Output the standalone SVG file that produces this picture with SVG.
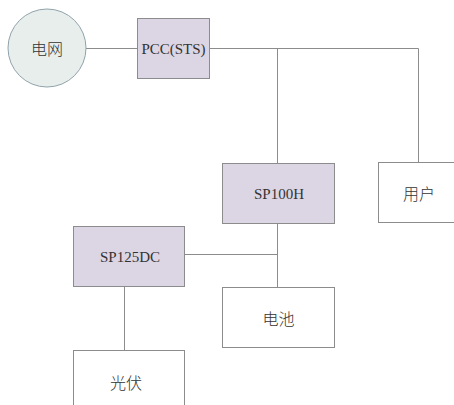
<svg xmlns="http://www.w3.org/2000/svg" width="454" height="405" viewBox="0 0 454 405">
<style>
.ln{stroke:#8c8c8c;stroke-width:1;fill:none}
.box{fill:#ffffff;stroke:#8c8c8c;stroke-width:1}
.pbox{fill:#dcd6e4;stroke:#8c8c8c;stroke-width:1}
.t{font-family:"Liberation Serif","Noto Sans CJK SC",serif;font-size:15px;font-weight:normal;fill:#333;text-anchor:middle;dominant-baseline:central}
.c{font-family:"Noto Sans CJK SC",sans-serif;font-size:16px;font-weight:300;fill:#333;text-anchor:middle;dominant-baseline:central}
</style>
<rect width="454" height="405" fill="#ffffff"/>
<g id="connectors">
<line class="ln" x1="86" y1="48.5" x2="137" y2="48.5"/>
<polyline class="ln" points="210,48.5 418.5,48.5 418.5,162"/>
<line class="ln" x1="277.5" y1="48.5" x2="277.5" y2="163"/>
<line class="ln" x1="277.5" y1="224" x2="277.5" y2="287"/>
<line class="ln" x1="185" y1="254.5" x2="277.5" y2="254.5"/>
<line class="ln" x1="124.5" y1="287" x2="124.5" y2="350"/>
</g>
<g id="grid">
<circle cx="47" cy="48" r="39" fill="#e8eeec" stroke="#8fa3ab" stroke-width="1"/>
<text class="c" x="47" y="48">电网</text>
</g>
<g id="pcc">
<rect class="pbox" x="137.5" y="18.5" width="72" height="60"/>
<text class="t" x="173.5" y="48.5">PCC(STS)</text>
</g>
<g id="sp100h">
<rect class="pbox" x="222.5" y="163.5" width="112" height="60"/>
<text class="t" x="279" y="193.5">SP100H</text>
</g>
<g id="user">
<rect class="box" x="378.5" y="162.5" width="82" height="60"/>
<text class="c" x="419" y="193">用户</text>
</g>
<g id="sp125dc">
<rect class="pbox" x="73.5" y="226.5" width="111" height="60"/>
<text class="t" x="130" y="257">SP125DC</text>
</g>
<g id="battery">
<rect class="box" x="222.5" y="287.5" width="112" height="60"/>
<text class="c" x="278.5" y="318">电池</text>
</g>
<g id="pv">
<rect class="box" x="73.5" y="350.5" width="111" height="70"/>
<text class="c" x="126" y="382">光伏</text>
</g>
</svg>
